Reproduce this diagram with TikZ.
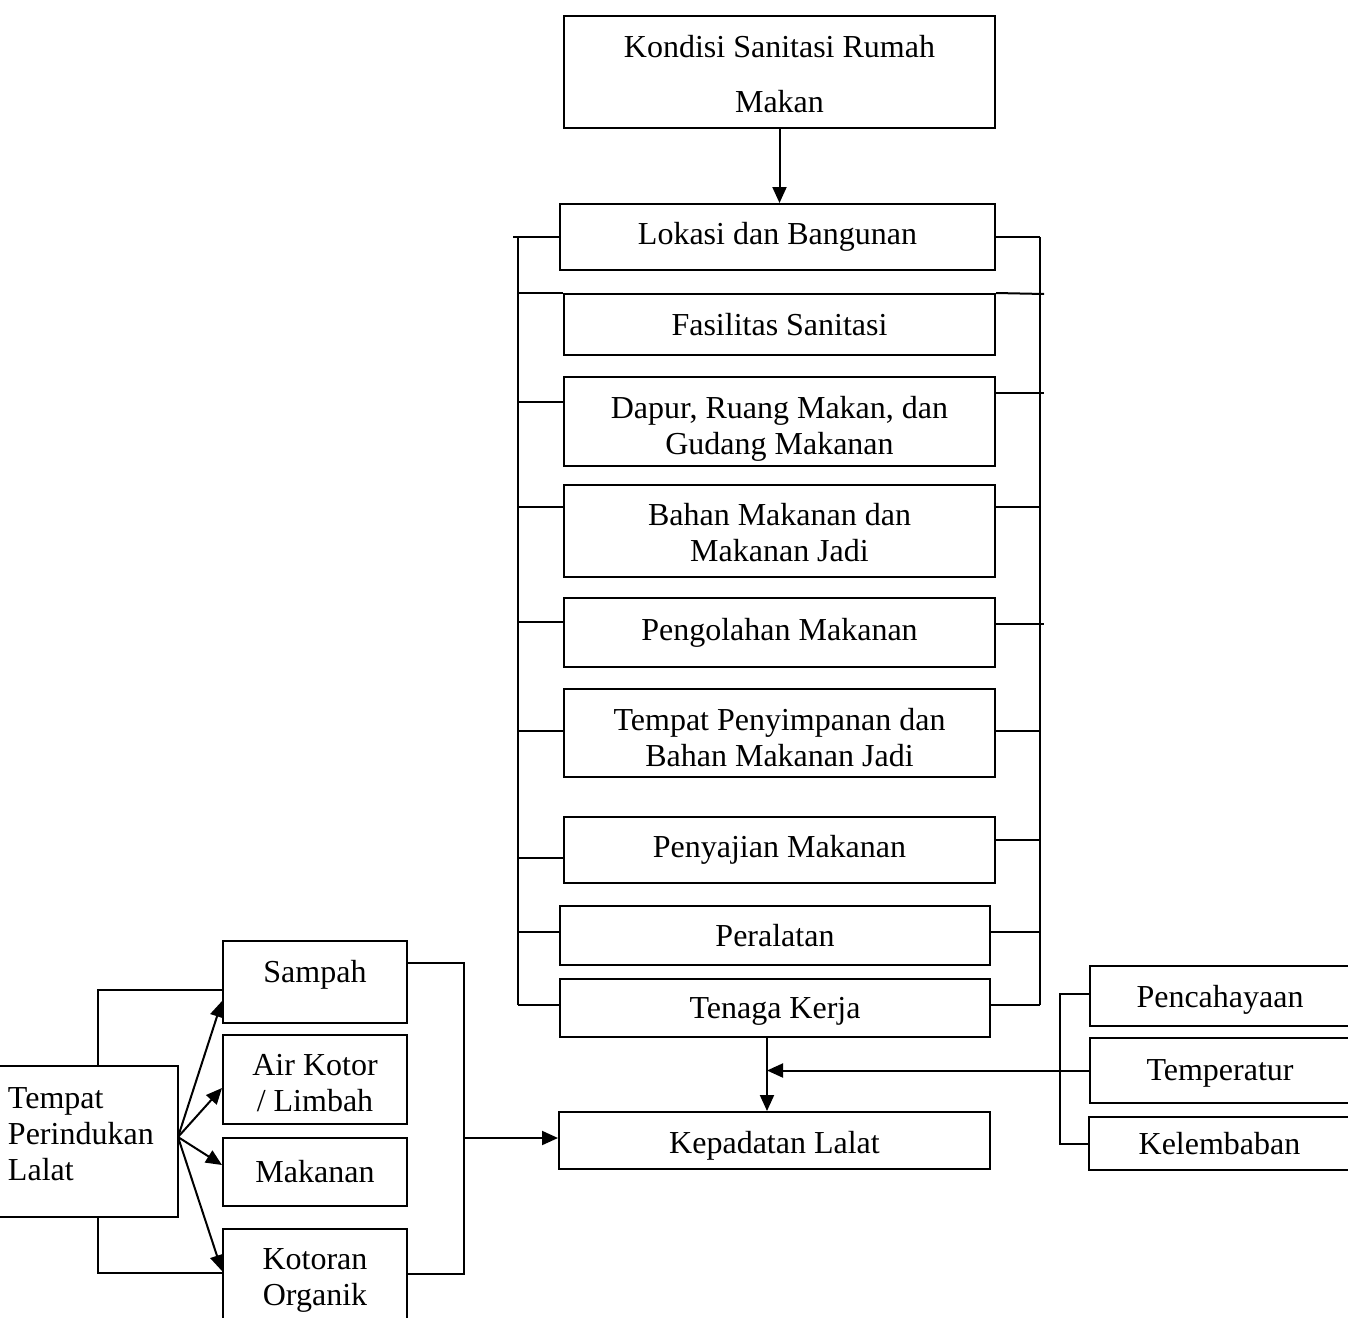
\documentclass[tikz,border=0pt]{standalone}
\usepackage{fontspec}
\setmainfont{Liberation Serif}
\usetikzlibrary{arrows.meta}
\newcommand\mytopstrut[1]{\rule{0pt}{#1}}
\begin{document}
\begin{tikzpicture}[x=0.5pt,y=-0.5pt,
  box/.style={draw,line width=1pt,inner sep=0pt,align=center,font=\fontsize{16}{18}\selectfont},
  low/.style={text depth=0pt},
  ln/.style={line width=1pt},
  arr/.style={line width=1pt,-{Triangle[length=8pt,width=7pt]}}]
\useasboundingbox (0,0) rectangle (1348,1317);
\clip (0,0) rectangle (1348,1317);
% central column
\node[box,minimum width=215.5pt,minimum height=56pt] (kondisi) at (779.5,72) {\mytopstrut{13pt}Kondisi Sanitasi Rumah\\[9.5pt]Makan};
\node[box,minimum width=217.5pt,minimum height=33pt] (lokasi) at (777.5,237) {Lokasi dan Bangunan};
\node[box,minimum width=215.5pt,minimum height=30.5pt] (fasilitas) at (779.5,324.5) {Fasilitas Sanitasi};
\node[box,minimum width=215.5pt,minimum height=44.5pt] (dapur) at (779.5,421.5) {\mytopstrut{18pt}Dapur, Ruang Makan, dan\\Gudang Makanan};
\node[box,minimum width=215.5pt,minimum height=46pt] (bahan) at (779.5,531) {\mytopstrut{13pt}Bahan Makanan dan\\Makanan Jadi};
\node[box,minimum width=215.5pt,minimum height=34.5pt] (pengolahan) at (779.5,632.5) {Pengolahan Makanan};
\node[box,minimum width=215.5pt,minimum height=44pt] (tempat) at (779.5,733) {\mytopstrut{15.4pt}Tempat Penyimpanan dan\\Bahan Makanan Jadi};
\node[box,minimum width=215.5pt,minimum height=33pt] (penyajian) at (779.5,850) {Penyajian Makanan};
\node[box,minimum width=215pt,minimum height=29.5pt] (peralatan) at (775,935.5) {Peralatan};
\node[box,minimum width=215pt,minimum height=29pt,low] (tenaga) at (775,1008) {Tenaga Kerja};
\node[box,minimum width=215.5pt,minimum height=28.5pt,low,text height=12.9pt] (kepadatan) at (774.5,1140.5) {Kepadatan Lalat};
% right group
\node[box,minimum width=130pt,minimum height=30pt,low] (pencahayaan) at (1220,996) {Pencahayaan};
\node[box,minimum width=130pt,minimum height=32.5pt,low] (temperatur) at (1220,1070.5) {Temperatur};
\node[box,minimum width=130.5pt,minimum height=26.5pt] (kelembaban) at (1219.5,1143.5) {Kelembaban};
% left group
\node[box,minimum width=90pt,minimum height=75.5pt,align=left,text width=80pt,inner xsep=5pt,text depth=43pt] (perindukan) at (88,1141.5) {Tempat\\Perindukan\\Lalat};
\node[box,minimum width=92pt,minimum height=41pt,text depth=10.5pt] (sampah) at (315,982) {Sampah};
\node[box,minimum width=92pt,minimum height=44.5pt] (air) at (315,1079.5) {\mytopstrut{14.6pt}Air Kotor\\/ Limbah};
\node[box,minimum width=92pt,minimum height=34pt] (makanan) at (315,1172) {Makanan};
\node[box,minimum width=92pt,minimum height=46pt] (kotoran) at (315,1275) {\mytopstrut{16pt}Kotoran\\Organik};
% top arrow
\draw[arr] (kondisi.south) -- (kondisi.south |- lokasi.north);
% left bus
\coordinate (lbt) at (518,237);
\coordinate (lbb) at (518,1005);
\coordinate (lstub) at (513,237);
\draw[ln] (lbt) -- (lbb);
\draw[ln] (lokasi.west) -- (lstub);
\draw[ln] (fasilitas.north west) -- (lbt |- fasilitas.north west);
\draw[ln] (dapur.west |- 0,402) -- (518,402);
\draw[ln] (bahan.west |- 0,507) -- (518,507);
\draw[ln] (pengolahan.west |- 0,622) -- (518,622);
\draw[ln] (tempat.west |- 0,731) -- (518,731);
\draw[ln] (penyajian.west |- 0,858) -- (518,858);
\draw[ln] (peralatan.west |- 0,932) -- (518,932);
\draw[ln] (tenaga.west |- 0,1005) -- (lbb);
% right bus
\coordinate (rbt) at (1040,237);
\coordinate (rbb) at (1040,1005);
\draw[ln] (rbt) -- (rbb);
\draw[ln] (lokasi.east) -- (rbt);
\draw[ln] (fasilitas.north east) -- (1044,294);
\draw[ln] (dapur.east |- 0,393) -- (1044,393);
\draw[ln] (bahan.east |- 0,507) -- (1040,507);
\draw[ln] (pengolahan.east |- 0,624) -- (1044,624);
\draw[ln] (tempat.east |- 0,731) -- (1040,731);
\draw[ln] (penyajian.east |- 0,840) -- (1040,840);
\draw[ln] (peralatan.east |- 0,932) -- (1040,932);
\draw[ln] (tenaga.east |- 0,1005) -- (rbb);
% to Kepadatan
\draw[arr] (tenaga.south -| 767,0) -- (kepadatan.north -| 767,0);
\coordinate (tj) at (767,1070.5);
\draw[arr] (temperatur.west) -- (tj);
\draw[ln] (pencahayaan.west |- 0,994) -- (1060,994) -- (1060,1143.5) -- (kelembaban.west);
% left group connectors
\draw[ln] (perindukan.north -| 98,0) |- (sampah.west |- 0,990);
\draw[ln] (perindukan.south -| 98,0) |- (kotoran.west |- 0,1273);
\coordinate (fan) at (178,1137);
\draw[arr] (fan) -- (sampah.west |- 0,1001);
\draw[arr] (fan) -- (air.west |- 0,1088);
\draw[arr] (fan) -- (makanan.west |- 0,1165);
\draw[arr] (fan) -- (kotoran.west |- 0,1271);
\draw[ln] (sampah.east |- 0,963) -- (464,963) -- (464,1274) -- (kotoran.east |- 0,1274);
\draw[arr] (464,1138) -- (kepadatan.west |- 0,1138);
\end{tikzpicture}
\end{document}
